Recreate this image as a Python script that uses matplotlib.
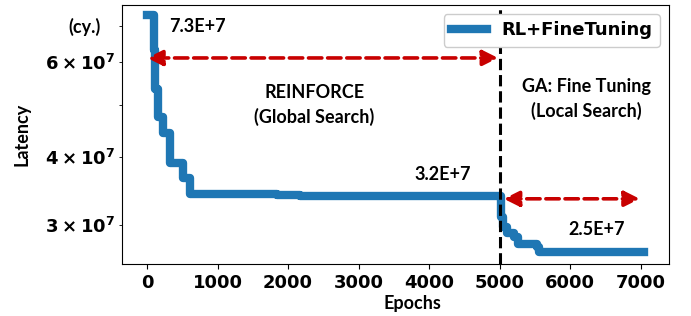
import numpy as np
import matplotlib
matplotlib.use('Agg')
import matplotlib.pyplot as plt

plt.rcParams['font.weight'] = 'bold'
plt.rcParams['axes.labelweight'] = 'bold'

# best latency so far vs. epoch
epochs = [0, 90, 100, 115, 160, 230, 330, 510, 610, 1840, 2170,
          5000, 5020, 5050, 5110, 5200, 5260, 5530, 5560, 7050]
latency = [7.33e7, 7.33e7, 6.3e7, 5.35e7, 4.75e7, 4.43e7, 3.9e7, 3.66e7, 3.42e7, 3.41e7, 3.39e7,
           3.39e7, 3.1e7, 2.97e7, 2.9e7, 2.85e7, 2.76e7, 2.73e7, 2.67e7, 2.67e7]

switch_epoch = 5000
label_start, label_rl, label_ft = '7.3E+7', '3.2E+7', '2.5E+7'

txt_font = 'Lato'
fs = 13

fig, ax = plt.subplots(figsize=(6.91, 3.16), dpi=100)
fig.subplots_adjust(left=0.177, right=0.968, top=0.984, bottom=0.165)

ax.plot(epochs, latency, drawstyle='steps-post', color='#1f77b4', lw=6,
        label='RL+FineTuning')
ax.set_yscale('log')
ax.set_ylim(2.54e7, 7.64e7)

ax.axvline(switch_epoch, color='black', ls='--', lw=2.2)

arrow = dict(arrowstyle='<|-|>', color='#c80000', ls='--', lw=2.6,
             mutation_scale=23, shrinkA=0, shrinkB=0)
ax.annotate('', xy=(0, 6.1e7), xytext=(4980, 6.1e7), arrowprops=arrow)
ax.annotate('', xy=(5060, 3.35e7), xytext=(6990, 3.35e7), arrowprops=arrow)

ax.text(720, 6.97e7, label_start, fontsize=fs, family=txt_font, weight='bold',
        ha='center', va='center')
ax.text(2376, 5.0e7, 'REINFORCE\n(Global Search)', fontsize=fs, family=txt_font,
        weight='bold', ha='center', va='center', linespacing=1.45)
ax.text(6237, 5.12e7, 'GA: Fine Tuning\n(Local Search)', fontsize=fs, family=txt_font,
        weight='bold', ha='center', va='center', linespacing=1.45)
ax.text(4190, 3.71e7, label_rl, fontsize=fs, family=txt_font, weight='bold',
        ha='center', va='center')
ax.text(6380, 2.94e7, label_ft, fontsize=fs, family=txt_font, weight='bold',
        ha='center', va='center')

ax.tick_params(which='both', labelsize=13)
ax.set_xticks([0, 1000, 2000, 3000, 4000, 5000, 6000, 7000])
ax.set_xlabel('Epochs', fontsize=fs, family=txt_font, labelpad=0)
ax.xaxis.set_label_coords(0.53, -0.12)
ax.set_ylabel('Latency', fontsize=fs, family=txt_font)
ax.yaxis.set_label_coords(-0.168, 0.5)
fig.text(0.123, 0.915, '(cy.)', fontsize=fs, family=txt_font, weight='bold',
         ha='center', va='center')

leg = ax.legend(loc='upper right', fontsize=13, framealpha=1)
leg.set_zorder(5)

fig.savefig('out.png', dpi=100)
